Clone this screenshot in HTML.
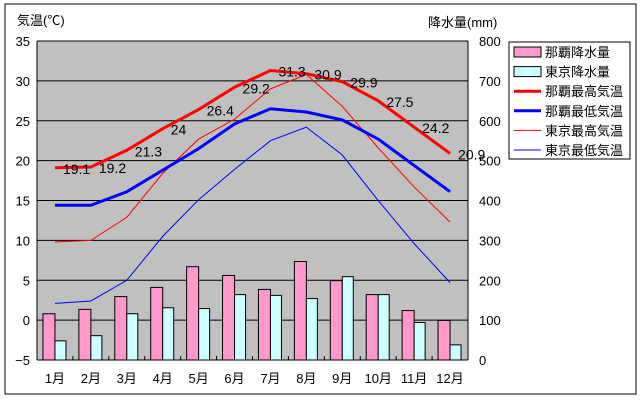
<!DOCTYPE html>
<html><head><meta charset="utf-8"><style>
body{margin:0;background:#fff}
svg{display:block;font-family:"Liberation Sans","Noto Sans CJK JP",sans-serif}
</style></head><body>
<svg id="chart" width="640" height="400">
<rect x="5" y="4" width="631" height="390" fill="#fff" stroke="#000" stroke-width="1"/>
<rect x="37" y="41" width="431" height="319" fill="#c0c0c0"/>
<g id="grid"></g><g id="bars"></g><g id="lines"></g><g id="labels"></g><g id="axes"></g>
<text x="17" y="25" font-size="13">気温(℃)</text>
<text x="428" y="27" font-size="13">降水量(mm)</text>
<g>
<rect x="509" y="42" width="121" height="117" fill="#fff" stroke="#000"/>
<g id="legend"></g>
</g>
</svg>
<script>
const months=["1月","2月","3月","4月","5月","6月","7月","8月","9月","10月","11月","12月"];
const nahaHigh=[19.1,19.2,21.3,24,26.4,29.2,31.3,30.9,29.9,27.5,24.2,20.9];
const nahaLow=[14.4,14.4,16.1,18.8,21.5,24.6,26.5,26.1,25.1,22.7,19.4,16.1];
const tokyoHigh=[9.8,10.0,12.9,18.4,22.7,25.2,29.0,30.8,26.8,21.6,16.7,12.3];
const tokyoLow=[2.1,2.4,5.0,10.5,15.1,18.9,22.5,24.2,20.7,15.0,9.6,4.7];
const nahaRain=[116,127,159,182,234,212,177,247,199,164,124,99];
const tokyoRain=[48,61,116,131,129,164,162,154,209,164,94,38];
const tempTicks=[35,30,25,20,15,10,5,0,-5];
const rainTicks=[800,700,600,500,400,300,200,100,0];
const NS="http://www.w3.org/2000/svg";
const L=37,R=468,T=41,B=360,slot=(R-L)/12;
const xC=i=>L+slot*(i+0.5);
const yT=v=>T+(35-v)*(B-T)/40;
const yR=v=>B-v*(B-T)/800;
function mk(tag,attrs,parent,txt){const e=document.createElementNS(NS,tag);for(const k in attrs)e.setAttribute(k,attrs[k]);if(txt!=null)e.textContent=txt;document.getElementById(parent).appendChild(e);return e;}
tempTicks.forEach((t,i)=>{
  if(t<35&&t>-5){const g=mk('line',{x1:L,x2:R,y1:yT(t),y2:yT(t),stroke:'#000','stroke-width':1},'grid');
  
  }
  const a=mk('text',{x:30,y:yT(t)+5,'font-size':13,'text-anchor':'end'},'axes',String(t).replace('-','−'));
  
  
});
rainTicks.forEach(t=>{
  const a=mk('text',{x:479,y:yR(t)+5,'font-size':13},'axes',t);
  
  
});
months.forEach((m,i)=>{
  const a=mk('text',{x:xC(i),y:383,'font-size':13,'text-anchor':'middle'},'axes',m);
  
  
  const tk=mk('line',{x1:L+slot*(i+1),x2:L+slot*(i+1),y1:B,y2:B-4,stroke:'#000'},'axes');
  
  
  const b1=mk('rect',{x:xC(i)-12,y:yR(nahaRain[i]),width:12,height:B-yR(nahaRain[i]),fill:'#ff99cc',stroke:'#000','stroke-width':1},'bars');
  
  
  const b2=mk('rect',{x:xC(i),y:yR(tokyoRain[i]),width:11,height:B-yR(tokyoRain[i]),fill:'#ccffff',stroke:'#000','stroke-width':1},'bars');
  
  
});
const axL=mk('line',{x1:L,x2:L,y1:T,y2:B,stroke:'#000'},'axes');


const axR=mk('line',{x1:R,x2:R,y1:T,y2:B,stroke:'#000'},'axes');


const axB=mk('line',{x1:L,x2:R,y1:B,y2:B,stroke:'#000'},'axes');


const axT=mk('line',{x1:L,x2:R,y1:T,y2:T,stroke:'#000'},'axes');


function line(data,color,w,name){
  const p=mk('polyline',{points:data.map((v,i)=>xC(i)+','+yT(v)).join(' '),fill:'none',stroke:color,'stroke-width':w},'lines');
  
  
}
line(tokyoHigh,'#ff0000',1,'tokyo-high-line');
line(tokyoLow,'#0000ff',1,'tokyo-low-line');
line(nahaLow,'#0000ff',3,'naha-low-line');
line(nahaHigh,'#ff0000',3,'naha-high-line');
nahaHigh.forEach((v,i)=>{
  const t=mk('text',{x:xC(i)+8,y:yT(v)+6,'font-size':14},'labels',v);
  
  
});
const leg=[["那覇降水量","bar","#ff99cc"],["東京降水量","bar","#ccffff"],["那覇最高気温","line","#ff0000",3],["那覇最低気温","line","#0000ff",3],["東京最高気温","line","#ff0000",1],["東京最低気温","line","#0000ff",1]];
leg.forEach((e,i)=>{
  const y=52+i*19.6;
  let s;
  if(e[1]=="bar"){s=mk('rect',{x:514,y:y-5,width:27,height:10,fill:e[2],stroke:'#000'},'legend');}
  else{s=mk('line',{x1:514,x2:541,y1:y,y2:y,stroke:e[2],'stroke-width':e[3]},'legend');}
  
  
  const t=mk('text',{x:545,y:y+5,'font-size':13},'legend',e[0]);
  
  
});
</script>
</body></html>
